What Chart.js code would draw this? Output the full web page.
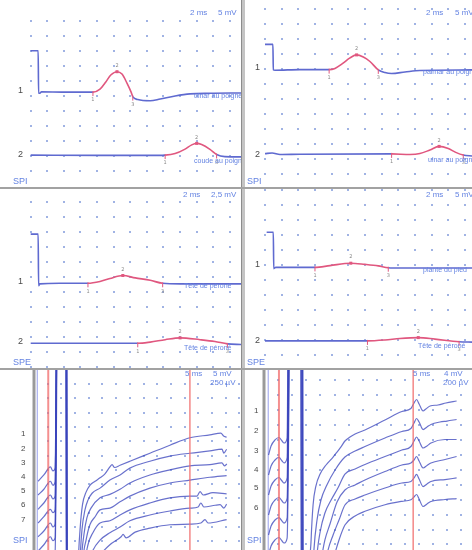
<!DOCTYPE html>
<html>
<head>
<meta charset="utf-8">
<script src="https://cdn.jsdelivr.net/npm/chart.js@4.4.1/dist/chart.umd.min.js"></script>
<style>
  html, body { margin: 0; padding: 0; background: #fff; }
  #wrap { position: relative; width: 472px; height: 550px; overflow: hidden; background: #fff; }
  #wrap canvas { position: absolute; }
  .sep { position: absolute; background: #a2a2a2; z-index: 5; }
</style>
</head>
<body>
<div id="wrap">
  <div class="sep" style="left:241px;top:0;width:4px;height:550px;background:#c4c4c4;border-left:1px solid #8c8c8c;box-sizing:border-box"></div>
  <div class="sep" style="left:0;top:187px;width:472px;height:2px"></div>
  <div class="sep" style="left:0;top:368px;width:472px;height:2px"></div>
</div>
<script>
// --- sensory / motor traces, time in ms, amplitude in mV (top panels) ---
const traceA1 = [[0,-10.0],[0.9,-10.0],[0.95,-24.2],[1.1,-24.2],[1.3,-23.7],[4.0,-23.8],[7.5,-23.8],[8.35,-22.8],[9.05,-20.4],[9.65,-18.1],[10.4,-17.0],[11.0,-17.8],[11.6,-20.8],[12.1,-23.8],[12.3,-25.3],[12.9,-26.3],[14.4,-26.7],[15.6,-26.1],[17.4,-25.1],[19.2,-24.4],[21.6,-24.2],[25.4,-24.1]];
const traceA2 = [[0,-44.8],[8.35,-44.9],[14.4,-44.9],[16.2,-44.8],[17.4,-44.3],[18.6,-42.8],[19.4,-41.4],[20.0,-40.9],[20.6,-41.3],[21.6,-42.9],[22.4,-44.6],[23.4,-45.3],[25.4,-45.4]];
const markA1 = [7.5, 10.4, 12.3];
const markA2 = [16.2, 20.0, 22.4];

const traceB1 = [[0,-11.8],[0.95,-11.8],[1.0,-20.3],[1.2,-20.4],[4.2,-20.2],[7.7,-20.2],[8.4,-19.8],[9.25,-18.3],[10.2,-16.3],[11.0,-15.3],[11.8,-16.0],[12.6,-17.5],[13.6,-20.3],[14.4,-21.2],[15.2,-21.5],[16.8,-21.0],[18.6,-20.5],[24.9,-20.3]];
const traceB2 = [[0,-48.2],[0.85,-48.0],[1.8,-48.5],[4.2,-48.4],[15.2,-48.3],[17.4,-48.5],[18.6,-48.2],[19.8,-47.0],[20.9,-45.8],[22.0,-46.5],[22.9,-47.8],[23.8,-48.7],[24.9,-49.0]];
const markB1 = [7.7, 11.0, 13.6];
const markB2 = [15.2, 20.9, 23.8];

const traceC1 = [[0,-5.3],[0.9,-5.3],[0.95,-13.9],[1.1,-13.6],[3.5,-13.5],[6.9,-13.5],[8.35,-13.2],[9.55,-12.7],[11.1,-12.2],[12.6,-12.6],[14.4,-13.0],[15.9,-13.5],[18.0,-13.6],[25.4,-13.6]];
const traceC2 = [[0,-23.5],[12.9,-23.5],[14.4,-23.3],[16.2,-22.9],[18.0,-22.6],[20.4,-22.9],[22.2,-23.2],[23.7,-23.6],[25.4,-23.7]];
const markC1 = [6.9, 11.1, 15.9];
const markC2 = [12.9, 18.0, 23.7];

const traceD1 = [[0.2,-14.1],[1.0,-14.1],[1.05,-26.2],[1.3,-25.8],[6.0,-25.8],[7.8,-25.2],[10.3,-24.4],[12.0,-24.8],[13.6,-25.3],[14.8,-25.9],[16.2,-26.0],[24.9,-26.0]];
const traceD2 = [[0,-50.3],[12.3,-50.3],[14.4,-50.0],[16.2,-49.5],[18.4,-49.2],[20.4,-49.7],[23.3,-50.6],[24.9,-50.7]];
const markD1 = [6.0, 10.3, 14.8];
const markD2 = [12.3, 18.4, 23.3];

// --- repeated stimulation traces, time in ms, amplitude in µV (bottom panels) ---
const traceE1 = [[1.5,-1700],[3.6,-1590],[6.0,-1450],[6.9,-1520],[7.7,-1470],[8.6,3000],[11.5,3000],[11.9,-5000],[15.3,-5000],[16.2,-3080],[16.8,-2550],[17.7,-2110],[19.0,-1890],[20.4,-1770],[22.3,-1700],[24.1,-1640],[25.9,-1570],[27.7,-1450],[28.5,-1410],[29.4,-1460],[31.4,-1420],[35.0,-1350],[42.3,-1210],[49.6,-1070],[56.9,-940],[64.2,-890],[68.2,-860],[69.2,-910],[70.3,-930]];
const traceE2 = [[1.5,-1940],[3.6,-1840],[6.0,-1700],[6.9,-1770],[7.7,-1710],[8.7,3000],[11.6,3000],[12.0,-5000],[15.5,-5000],[16.8,-3080],[17.5,-2550],[18.6,-2200],[19.7,-2030],[21.2,-1910],[24.1,-1820],[27.7,-1680],[31.4,-1590],[35.0,-1470],[42.3,-1350],[49.6,-1260],[56.9,-1210],[64.2,-1170],[68.6,-1140],[69.3,-1210],[70.3,-1140]];
const traceE3 = [[1.5,-2190],[3.6,-2080],[6.0,-1940],[6.9,-2010],[7.7,-1960],[8.5,3000],[11.7,3000],[12.1,-5000],[15.8,-5000],[17.3,-3080],[18.2,-2640],[19.3,-2340],[20.8,-2170],[24.1,-1990],[27.7,-1930],[31.4,-1840],[35.0,-1730],[42.3,-1590],[49.6,-1500],[56.9,-1430],[64.2,-1410],[68.6,-1380],[69.5,-1430],[70.4,-1400]];
const traceE4 = [[1.5,-2430],[3.6,-2320],[6.0,-2190],[6.9,-2250],[7.7,-2200],[8.8,3000],[11.8,3000],[12.2,-5000],[16.2,-5000],[17.9,-3080],[19.0,-2730],[20.4,-2460],[22.3,-2320],[24.1,-2200],[27.7,-2170],[31.4,-2060],[35.0,-1960],[42.3,-1820],[49.6,-1730],[56.9,-1680],[64.2,-1630],[70.3,-1600]];
const traceE5 = [[1.5,-2670],[3.6,-2570],[6.0,-2430],[6.9,-2500],[7.7,-2450],[8.6,3000],[11.6,3000],[12.0,-5000],[16.5,-5000],[18.6,-3160],[19.7,-2810],[21.5,-2600],[24.1,-2430],[27.7,-2390],[31.4,-2290],[35.0,-2200],[42.3,-2080],[49.6,-1990],[56.9,-1960],[59.5,-1960],[60.6,-1880],[61.7,-1940],[65.3,-1900],[70.3,-1920]];
const traceE6 = [[1.5,-2920],[3.6,-2810],[6.0,-2670],[6.9,-2740],[7.7,-2690],[8.7,3000],[11.7,3000],[12.1,-5000],[17.0,-5000],[19.3,-3250],[21.2,-2940],[24.1,-2730],[27.7,-2600],[31.4,-2500],[35.0,-2390],[42.3,-2290],[49.6,-2220],[56.9,-2170],[59.9,-2150],[60.9,-2080],[62.0,-2150],[66.1,-2120],[67.9,-2110],[69.3,-2170],[70.3,-2100]];
const traceE7 = [[1.5,-3160],[3.6,-3060],[6.0,-2920],[6.9,-2990],[7.7,-2940],[8.9,3000],[11.9,3000],[12.3,-5000],[17.5,-5000],[20.4,-3340],[24.1,-2990],[27.7,-2810],[31.8,-2670],[32.5,-2630],[33.6,-2690],[36.9,-2590],[42.3,-2520],[49.6,-2460],[56.9,-2450],[60.9,-2430],[62.4,-2370],[63.5,-2430],[70.3,-2370]];
const cursorsE = [0, 1.2, 5.2, 56.9];

const traceF1 = [[1.6,-1000],[2.5,-879],[3.9,-798],[5.3,-765],[6.4,-812],[7.1,-839],[8.2,-772],[8.9,3000],[12.9,3000],[13.3,-4000],[15.8,-4000],[16.0,-2945],[16.7,-2140],[17.4,-1671],[18.4,-1416],[19.9,-1255],[22.0,-1134],[24.5,-1027],[25.9,-960],[27.3,-892],[28.7,-812],[30.5,-758],[32.3,-718],[35.8,-664],[42.9,-530],[48.9,-416],[52.1,-376],[53.2,-302],[54.1,-255],[55.0,-315],[56.4,-409],[57.4,-382],[58.9,-342],[61.7,-329],[64.5,-302],[68.3,-275]];
const traceF2 = [[1.6,-1268],[2.5,-1147],[3.9,-1067],[5.3,-1033],[6.4,-1080],[7.1,-1107],[8.2,-1040],[9.1,3000],[13.0,3000],[13.4,-4000],[16.8,-4000],[17.0,-2945],[17.7,-2275],[18.8,-1872],[20.2,-1604],[22.3,-1402],[25.2,-1201],[28.7,-1027],[32.3,-946],[35.8,-886],[42.9,-772],[48.9,-684],[52.1,-644],[53.2,-570],[54.1,-510],[55.0,-557],[56.4,-658],[57.8,-624],[59.2,-590],[62.4,-557],[64.9,-544],[68.3,-523]];
const traceF3 = [[1.6,-1537],[2.5,-1416],[3.9,-1335],[5.3,-1302],[6.4,-1349],[7.1,-1376],[8.2,-1308],[9.3,3000],[13.2,3000],[13.6,-4000],[17.9,-4000],[18.1,-2945],[18.8,-2342],[19.9,-2033],[21.6,-1778],[23.8,-1604],[26.2,-1443],[28.7,-1255],[32.3,-1188],[35.8,-1127],[42.9,-1020],[48.9,-933],[52.1,-886],[53.2,-812],[54.1,-758],[55.0,-812],[56.4,-906],[57.8,-879],[59.2,-839],[64.2,-792],[68.3,-792]];
const traceF4 = [[1.6,-1805],[2.5,-1684],[3.9,-1604],[5.3,-1570],[6.4,-1617],[7.1,-1644],[8.2,-1577],[9.5,3000],[13.4,3000],[13.8,-4000],[18.9,-4000],[19.1,-2945],[20.2,-2409],[21.6,-2140],[23.4,-1926],[25.9,-1631],[28.7,-1470],[32.3,-1402],[35.8,-1335],[42.9,-1221],[48.9,-1134],[52.1,-1107],[53.2,-1067],[54.1,-1020],[55.0,-1080],[56.4,-1174],[57.8,-1141],[59.2,-1107],[64.2,-1060],[68.3,-1020]];
const traceF5 = [[1.6,-2073],[2.5,-1953],[3.9,-1872],[5.3,-1839],[6.4,-1886],[7.1,-1913],[8.2,-1845],[9.6,3000],[13.5,3000],[13.9,-4000],[20.0,-4000],[20.2,-2945],[21.3,-2543],[22.7,-2275],[24.5,-2073],[26.6,-1872],[28.7,-1671],[32.3,-1590],[35.8,-1537],[42.9,-1443],[48.9,-1376],[52.1,-1355],[53.2,-1308],[54.1,-1261],[55.0,-1322],[56.4,-1423],[57.8,-1389],[59.2,-1355],[64.2,-1329],[68.3,-1308]];
const traceF6 = [[1.6,-2342],[2.5,-2221],[3.9,-2140],[5.3,-2107],[6.4,-2154],[7.1,-2181],[8.2,-2114],[9.8,3000],[13.6,3000],[14.0,-4000],[21.1,-4000],[21.3,-2945],[22.7,-2677],[24.5,-2409],[26.6,-2140],[28.7,-1939],[32.3,-1818],[35.8,-1755],[42.9,-1667],[48.9,-1621],[52.1,-1600],[53.2,-1563],[54.1,-1530],[55.0,-1590],[56.4,-1691],[57.8,-1657],[59.2,-1624],[64.2,-1597],[68.3,-1584]];
const cursorsF = [0, 1.5, 5.3, 52.9];

const BLUE = '#5f6ad0';
const RED = '#e0577f';
const DOT = '#a0b3e4';
const LABEL = '#6483e2';
const NUM = '#4a4a4a';
const BOTTOM_LINE = 'rgba(58,68,188,0.76)';

// cursor styles for the bottom panels: reference, stimulus marker, two red latency cursors
const cursorStyle = [
  { color: '#9a9a9a', width: 3, over: false },
  { color: '#a8aeee', width: 1.2, over: false },
  { color: 'rgba(240,105,105,0.75)', width: 2, over: true },
  { color: 'rgba(240,105,105,0.8)', width: 1.5, over: true }
];

const panels = [
  {
    x: 0, y: 0, w: 241, h: 188,
    xr: [-3.70, 25.34], yr: [-55.77, 6.9],
    grid: { x: [0, 24, 2], y: [-50, 0, 5] },
    traces: [{ data: traceA1, mark: markA1 }, { data: traceA2, mark: markA2 }],
    texts: [
      ['2 ms', 190, 13, LABEL, 8], ['5 mV', 218, 13, LABEL, 8],
      ['1', 18, 91, NUM, 9], ['2', 18, 155, NUM, 9],
      ['ulnar au poignet', 194, 96, LABEL, 7], ['coude au poignet', 194, 161, LABEL, 7],
      ['SPI', 13, 182, LABEL, 9]
    ]
  },
  {
    x: 245, y: 0, w: 227, h: 188,
    xr: [-2.40, 24.85], yr: [-59.67, 3],
    grid: { x: [0, 24, 2], y: [-55, 0, 5] },
    traces: [{ data: traceB1, mark: markB1 }, { data: traceB2, mark: markB2 }],
    texts: [
      ['2 ms', 181, 13, LABEL, 8], ['5 mV', 210, 13, LABEL, 8],
      ['1', 10, 68, NUM, 9], ['2', 10, 155, NUM, 9],
      ['palmar au poignet', 178, 72, LABEL, 7], ['ulnar au poignet', 183, 160, LABEL, 7],
      ['SPI', 2, 182, LABEL, 9]
    ]
  },
  {
    x: 0, y: 189, w: 241, h: 179,
    xr: [-3.70, 25.34], yr: [-27.62, 2.22],
    grid: { x: [0, 24, 2], y: [-27.5, 0, 2.5] },
    traces: [{ data: traceC1, mark: markC1 }, { data: traceC2, mark: markC2 }],
    texts: [
      ['2 ms', 183, 6, LABEL, 8], ['2,5 mV', 211, 6, LABEL, 8],
      ['1', 18, 93, NUM, 9], ['2', 18, 153, NUM, 9],
      ['Tête de péroné', 184, 97, LABEL, 7], ['Tête de péroné', 184, 159, LABEL, 7],
      ['SPE', 13, 174, LABEL, 9]
    ]
  },
  {
    x: 245, y: 189, w: 227, h: 179,
    xr: [-2.40, 24.85], yr: [-59.33, 0.33],
    grid: { x: [0, 24, 2], y: [-55, 0, 5] },
    traces: [{ data: traceD1, mark: markD1 }, { data: traceD2, mark: markD2 }],
    texts: [
      ['2 ms', 181, 6, LABEL, 8], ['5 mV', 210, 6, LABEL, 8],
      ['1', 10, 76, NUM, 9], ['2', 10, 152, NUM, 9],
      ['plante du pied', 178, 81, LABEL, 7], ['Tête de péroné', 173, 157, LABEL, 7],
      ['SPE', 2, 174, LABEL, 9]
    ]
  },
  {
    x: 0, y: 370, w: 241, h: 180,
    xr: [-12.41, 75.55], yr: [-2901.7, 244.7],
    grid: { x: [5, 75, 5], y: [-2750, 0, 250] },
    cursors: cursorsE,
    bottom: true,
    traces: [traceE1, traceE2, traceE3, traceE4, traceE5, traceE6, traceE7].map(d => ({ data: d })),
    texts: [
      ['5 ms', 185, 4, LABEL, 8], ['5 mV', 213, 4, LABEL, 8], ['250 µV', 210, 13, LABEL, 8],
      ['1', 21, 64, NUM, 8], ['2', 21, 79, NUM, 8], ['3', 21, 93, NUM, 8], ['4', 21, 107, NUM, 8],
      ['5', 21, 121, NUM, 8], ['6', 21, 135, NUM, 8], ['7', 21, 150, NUM, 8],
      ['SPI', 13, 171, LABEL, 9]
    ]
  },
  {
    x: 245, y: 370, w: 227, h: 180,
    xr: [-6.74, 73.76], yr: [-2274.7, 140.9],
    grid: { x: [5, 70, 5], y: [-2200, 0, 200] },
    cursors: cursorsF,
    bottom: true,
    traces: [traceF1, traceF2, traceF3, traceF4, traceF5, traceF6].map(d => ({ data: d })),
    texts: [
      ['5 ms', 168, 4, LABEL, 8], ['4 mV', 199, 4, LABEL, 8], ['200 µV', 198, 13, LABEL, 8],
      ['1', 9, 41, NUM, 8], ['2', 9, 61, NUM, 8], ['3', 9, 81, NUM, 8],
      ['4', 9, 100, NUM, 8], ['5', 9, 118, NUM, 8], ['6', 9, 138, NUM, 8],
      ['SPI', 2, 171, LABEL, 9]
    ]
  }
];

function nearestPoint(chart, di, t) {
  const ds = chart.data.datasets[di].data;
  let best = 0;
  ds.forEach((p, j) => { if (Math.abs(p.x - t) < Math.abs(ds[best].x - t)) best = j; });
  return chart.getDatasetMeta(di).data[best];
}

function drawCursors(chart, p, over) {
  if (!p.cursors) return;
  const { ctx, chartArea, scales } = chart;
  p.cursors.forEach((c, i) => {
    const st = cursorStyle[i];
    if (st.over !== over) return;
    const px = scales.x.getPixelForValue(c);
    ctx.strokeStyle = st.color;
    ctx.lineWidth = st.width;
    ctx.beginPath();
    ctx.moveTo(px, chartArea.top);
    ctx.lineTo(px, chartArea.bottom);
    ctx.stroke();
  });
}

function panelPlugin(p) {
  return {
    id: 'emgPanel',
    beforeDatasetsDraw(chart) {
      const { ctx, scales: { x, y } } = chart;
      ctx.save();
      ctx.fillStyle = DOT;
      const [x0, x1, dx] = p.grid.x, [y0, y1, dy] = p.grid.y;
      for (let gx = x0; gx <= x1 + 1e-6; gx += dx) {
        for (let gy = y0; gy <= y1 + 1e-6; gy += dy) {
          const px = Math.round(x.getPixelForValue(gx));
          const py = Math.round(y.getPixelForValue(gy));
          ctx.fillRect(px - 1, py - 1, 2, 2);
        }
      }
      drawCursors(chart, p, false);
      ctx.restore();
    },
    afterDatasetsDraw(chart) {
      const { ctx } = chart;
      ctx.save();
      drawCursors(chart, p, true);
      // latency markers 1 / 2 / 3 on the response
      p.traces.forEach((t, di) => {
        if (!t.mark) return;
        t.mark.forEach((m, k) => {
          const el = nearestPoint(chart, di, m);
          ctx.fillStyle = RED;
          ctx.strokeStyle = RED;
          ctx.lineWidth = 1;
          if (k === 1) {
            ctx.fillRect(el.x - 1.5, el.y - 1.5, 3, 3);
          } else {
            ctx.beginPath();
            ctx.moveTo(el.x, el.y - 1);
            ctx.lineTo(el.x, el.y + 4);
            ctx.stroke();
          }
          ctx.fillStyle = '#8a8a8a';
          ctx.font = '5px "DejaVu Sans"';
          ctx.textAlign = 'center';
          ctx.textBaseline = 'middle';
          ctx.fillText(String(k + 1), el.x, k === 1 ? el.y - 6 : el.y + 8);
        });
      });
      ctx.textAlign = 'left';
      ctx.textBaseline = 'middle';
      p.texts.forEach(([s, tx, ty, col, size]) => {
        ctx.fillStyle = col;
        ctx.font = size + 'px "Liberation Sans"';
        ctx.fillText(s, tx, ty);
      });
      ctx.restore();
    }
  };
}

const wrap = document.getElementById('wrap');
panels.forEach(p => {
  const c = document.createElement('canvas');
  c.width = p.w;
  c.height = p.h;
  c.style.left = p.x + 'px';
  c.style.top = p.y + 'px';
  wrap.appendChild(c);

  const datasets = p.traces.map(t => ({
    data: t.data.map(([x, y]) => ({ x, y })),
    showLine: true,
    pointRadius: 0,
    borderWidth: p.bottom ? 1.2 : 1.6,
    borderColor: p.bottom ? BOTTOM_LINE : BLUE,
    cubicInterpolationMode: 'monotone',
    segment: t.mark ? {
      borderColor: s => (s.p0.parsed.x >= t.mark[0] - 1e-6 && s.p1.parsed.x <= t.mark[2] + 1e-6) ? RED : undefined
    } : undefined
  }));

  new Chart(c, {
    type: 'scatter',
    data: { datasets },
    options: {
      responsive: false,
      animation: false,
      devicePixelRatio: 1,
      layout: { padding: 0 },
      plugins: { legend: { display: false }, tooltip: { enabled: false } },
      scales: {
        x: { type: 'linear', display: false, min: p.xr[0], max: p.xr[1] },
        y: { type: 'linear', display: false, min: p.yr[0], max: p.yr[1] }
      }
    },
    plugins: [panelPlugin(p)]
  });
});
</script>
</body>
</html>
